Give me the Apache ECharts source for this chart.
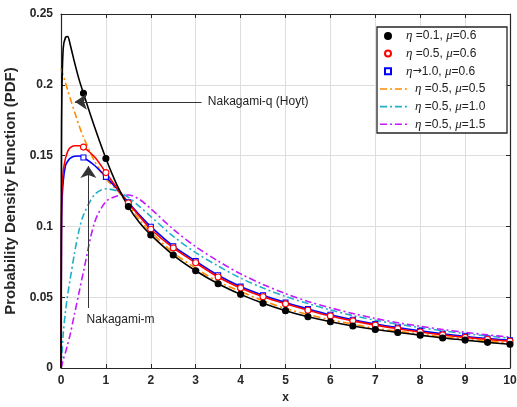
<!DOCTYPE html>
<html>
<head>
<meta charset="utf-8">
<title>PDF</title>
<script src="https://cdn.jsdelivr.net/npm/echarts@6/dist/echarts.min.js"></script>
<style>*{margin:0;padding:0;} body{background:#fff;}</style>
</head>
<body>
<div id="main" style="width:517px;height:407px;"></div>
<script>
// x grid shared by every curve
var xs = [0, 0.01, 0.02, 0.05, 0.1, 0.15, 0.2, 0.3, 0.4, 0.5, 0.75, 1, 1.25, 1.5, 1.75,
          2, 2.5, 3, 3.5, 4, 4.5, 5, 5.5, 6, 6.5, 7, 7.5, 8, 8.5, 9, 9.5, 10];

// PDF values
var pdfEta01Mu06 = [0, 0.15, 0.195, 0.226, 0.2335, 0.234, 0.229, 0.216, 0.204, 0.194, 0.170, 0.148, 0.129, 0.114, 0.1025,
                    0.094, 0.0798, 0.0687, 0.0595, 0.052, 0.0457, 0.0405, 0.0362, 0.0327, 0.0297, 0.0272, 0.0251, 0.0232, 0.0212, 0.0197, 0.0181, 0.0168];
var pdfEta05Mu06 = [0, 0.10, 0.125, 0.139, 0.148, 0.153, 0.1555, 0.157, 0.157, 0.156, 0.149, 0.138, 0.127, 0.1165, 0.107,
                    0.098, 0.0848, 0.0743, 0.0643, 0.0565, 0.0503, 0.0453, 0.0408, 0.0367, 0.0333, 0.0303, 0.0277, 0.0254, 0.0234, 0.0216, 0.0201, 0.0189];
var pdfEta10Mu06 = [0, 0.09, 0.115, 0.132, 0.143, 0.146, 0.148, 0.1495, 0.1497, 0.1487, 0.143, 0.135, 0.1265, 0.117, 0.108,
                    0.0998, 0.086, 0.0755, 0.0655, 0.0575, 0.0513, 0.0462, 0.0417, 0.0376, 0.0341, 0.0311, 0.0285, 0.0262, 0.0242, 0.0223, 0.0208, 0.0196];
var pdfEta05Mu05 = [0.2115, 0.2105, 0.2095, 0.2065, 0.2015, 0.196, 0.191, 0.181, 0.1715, 0.163, 0.146, 0.1335, 0.1255, 0.1155, 0.1045,
                    0.096, 0.0815, 0.0705, 0.061, 0.054, 0.0475, 0.042, 0.0378, 0.034, 0.031, 0.028, 0.026, 0.024, 0.022, 0.0205, 0.019, 0.0177];
var pdfEta05Mu10 = [0, 0.005, 0.01, 0.0245, 0.04, 0.052, 0.062, 0.081, 0.097, 0.108, 0.1225, 0.1265, 0.125, 0.1205, 0.114,
                    0.107, 0.093, 0.0815, 0.072, 0.0635, 0.0565, 0.0505, 0.0455, 0.041, 0.037, 0.0337, 0.031, 0.0285, 0.0263, 0.0243, 0.0226, 0.021];
var pdfEta05Mu15 = [0, 0.001, 0.002, 0.006, 0.011, 0.017, 0.023, 0.038, 0.053, 0.068, 0.103, 0.1175, 0.1215, 0.1222, 0.119,
                    0.1125, 0.098, 0.0857, 0.0755, 0.0665, 0.059, 0.0525, 0.047, 0.0425, 0.0385, 0.035, 0.032, 0.0295, 0.0272, 0.0252, 0.0234, 0.0218];

var names = ['η =0.1, μ=0.6', 'η =0.5, μ=0.6', 'η→1.0, μ=0.6', 'η =0.5, μ=0.5', 'η =0.5, μ=1.0', 'η =0.5, μ=1.5'];
var yTicks = [0, 0.05, 0.1, 0.15, 0.2, 0.25];

// annotation: [text, text x, text y, arrow from x, from y, arrow tip x, tip y]
var notes = [
    ['Nakagami-q (Hoyt)', 3.27, 0.188, 3.13, 0.188, 0.31, 0.188],
    ['Nakagami-m', 0.57, 0.034, 0.61, 0.0424, 0.61, 0.1426]
];

var chart = echarts.init(document.getElementById('main'));

function pairs(ys) {
    return xs.map(function (x, i) { return [x, ys[i]]; });
}
function marks(ys) {
    return pairs(ys).filter(function (p) { return p[0] >= 0.5 && (p[0] * 2) % 1 === 0; });
}

var axisColor = '#262626';
var lbl = { color: axisColor, fontFamily: 'Liberation Sans, Arial', fontWeight: 'bold', fontSize: 12 };
var dashDot = [7, 3, 2, 3];
// legend sample of the dash-dot line
var dashDotIcon = 'path://M0,0H7V1.6H0Z M10,0H12V1.6H10Z M15,0H22V1.6H15Z M25,0H27V1.6H25Z M30,0H30.1V1.6H30Z';

function solid(name, ys, color) {
    return { name: name, type: 'line', data: pairs(ys), smooth: 0.3, showSymbol: false, symbol: 'none',
             lineStyle: { color: color, width: 1.6 }, itemStyle: { color: color }, z: 3 };
}
function dotted(name, ys, color) {
    return { name: name, type: 'line', data: pairs(ys), smooth: 0.3, showSymbol: false, symbol: 'none',
             lineStyle: { color: color, width: 1.6, type: dashDot }, itemStyle: { color: color }, z: 2 };
}
function markers(name, ys, symbol, fill, stroke, size) {
    return { name: name, type: 'scatter', data: marks(ys), symbol: symbol, symbolSize: size,
             itemStyle: { color: fill, borderColor: stroke, borderWidth: 1.1, opacity: 1 }, z: 4 };
}

var arrowLines = notes.map(function (n) {
    return [{ coord: [n[3], n[4]] }, { coord: [n[5], n[6]] }];
});

var black = solid('l1', pdfEta01Mu06, '#000000');
black.markLine = {
    silent: true, animation: false, symbol: ['none', 'arrow'], symbolSize: 12,
    lineStyle: { color: '#333', width: 1, type: 'solid' },
    label: { show: false },
    data: arrowLines
};

var legendText = {
    fontFamily: 'Liberation Sans, Arial', fontSize: 12, color: '#222', lineHeight: 14,
    rich: {
        g: { fontFamily: 'Liberation Serif, Times New Roman', fontStyle: 'italic', fontSize: 13, color: '#222' },
        a: { fontFamily: 'DejaVu Sans', fontSize: 11, color: '#222' }
    }
};
function greek(n) {
    return n.replace(/η/g, '{g|η}').replace(/μ/g, '{g|μ}').replace(/→/g, '{a|→}');
}

var option = {
    animation: false,
    backgroundColor: '#fff',
    grid: { left: 61, right: 7, top: 14, bottom: 39, containLabel: false, outerBoundsMode: 'none' },
    legend: [{
        data: [{ name: names[0], icon: 'circle' }, { name: names[1], icon: 'circle' },
               { name: names[2], icon: 'path://M0,0H10V10H0Z' }],
        orient: 'vertical', left: 384, top: 29, z: 10,
        itemWidth: 26, itemHeight: 6, itemGap: 3.6, padding: 0,
        textStyle: legendText, formatter: greek
    }, {
        data: names.slice(3).map(function (n) { return { name: n, icon: dashDotIcon }; }),
        orient: 'vertical', left: 380, top: 82, z: 10,
        itemWidth: 30, itemHeight: 2, itemGap: 3.6, padding: 0,
        textStyle: legendText, formatter: greek
    }],
    xAxis: [{
        type: 'value', min: 0, max: 10, interval: 1,
        name: 'x', nameLocation: 'middle', nameGap: 24,
        nameTextStyle: lbl,
        axisLine: { show: true, lineStyle: { color: axisColor, width: 1.2 } },
        axisTick: { show: true, inside: true, length: 4, lineStyle: { color: axisColor } },
        axisLabel: Object.assign({ margin: 7 }, lbl),
        splitLine: { show: true, lineStyle: { color: '#dedede', width: 1 } }
    }, {
        type: 'value', position: 'top', min: 0, max: 10, interval: 1,
        axisLine: { show: true, onZero: false, lineStyle: { color: axisColor, width: 1.2 } },
        axisTick: { show: true, inside: true, length: 4, lineStyle: { color: axisColor } },
        axisLabel: { show: false }, splitLine: { show: false }
    }],
    yAxis: [{
        type: 'value', min: yTicks[0], max: yTicks[yTicks.length - 1], interval: 0.05,
        name: 'Probability Density Function (PDF)', nameLocation: 'middle', nameGap: 38,
        nameTextStyle: Object.assign({}, lbl, { fontSize: 15 }),
        axisLine: { show: true, lineStyle: { color: axisColor, width: 1.2 } },
        axisTick: { show: true, inside: true, length: 4, lineStyle: { color: axisColor } },
        axisLabel: Object.assign({ margin: 8 }, lbl),
        splitLine: { show: true, lineStyle: { color: '#dedede', width: 1 } }
    }, {
        type: 'value', position: 'right', min: 0, max: 0.25, interval: 0.05,
        axisLine: { show: true, onZero: false, lineStyle: { color: axisColor, width: 1.2 } },
        axisTick: { show: true, inside: true, length: 4, lineStyle: { color: axisColor } },
        axisLabel: { show: false }, splitLine: { show: false }
    }],
    series: [
        dotted(names[3], pdfEta05Mu05, '#ff8c00'),
        dotted(names[4], pdfEta05Mu10, '#1fb0c8'),
        dotted(names[5], pdfEta05Mu15, '#c21aff'),
        solid('l3', pdfEta10Mu06, '#0000ff'),
        solid('l2', pdfEta05Mu06, '#ff0000'),
        black,
        markers(names[2], pdfEta10Mu06, 'rect', '#ffffff', '#0000ff', 5),
        markers(names[1], pdfEta05Mu06, 'circle', '#ffffff', '#ff0000', 6),
        markers(names[0], pdfEta01Mu06, 'circle', '#000000', '#000000', 6)
    ]
};
chart.setOption(option);

// legend frame and annotation texts, placed through the axes
var graphics = [{
    type: 'rect', z: 5, shape: { x: 377, y: 27, width: 130, height: 106 },
    style: { fill: '#ffffff', stroke: '#262626', lineWidth: 1.3 }
}];
notes.forEach(function (n) {
    var p = chart.convertToPixel({ xAxisIndex: 0, yAxisIndex: 0 }, [n[1], n[2]]);
    graphics.push({
        type: 'text', z: 6, x: p[0], y: p[1],
        style: { text: n[0], fill: '#222', font: '12px "Liberation Sans", Arial', verticalAlign: 'middle' }
    });
});
chart.setOption({ graphic: graphics });
</script>
</body>
</html>
